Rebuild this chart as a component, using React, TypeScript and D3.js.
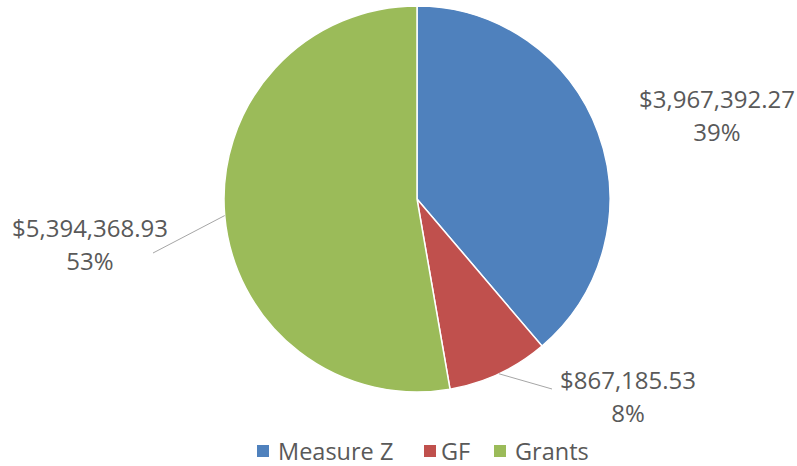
import React, { useEffect, useRef } from 'react';
import * as d3 from 'd3';

const categories = ['Measure Z', 'GF', 'Grants'];
const amounts = [3967392.27, 867185.53, 5394368.93];
const percentLabels = ['39%', '8%', '53%'];
const colors = ['#4F81BD', '#C0504D', '#9BBB59'];

// label placement relative to pie centre (Excel-like manual layout)
const labelOffsets: [number, number][] = [[300, -91], [211, 190], [-327, 38]];
const leaderEnds: ([number, number] | null)[] = [null, [135, 190], [-264, 54]];

const App = () => {
  const svgRef = useRef<SVGSVGElement>(null);

  useEffect(() => {
    const svg = d3.select(svgRef.current);
    svg.selectAll('*').remove();

    const width = 797;
    const height = 466;
    const cx = 417;
    const cy = 199;
    const radius = 193;
    const font = '"Open Sans", "Liberation Sans", sans-serif';
    const textColor = '#595959';

    svg.attr('width', width).attr('height', height);

    const pie = d3.pie<number>().sort(null).value(d => d);
    const arcs = pie(amounts);
    const arc = d3.arc<d3.PieArcDatum<number>>().innerRadius(0).outerRadius(radius);

    const g = svg.append('g').attr('transform', `translate(${cx},${cy})`);

    g.selectAll('path.slice')
      .data(arcs)
      .enter().append('path')
      .attr('class', 'slice')
      .attr('d', arc)
      .attr('fill', (d, i) => colors[i])
      .attr('stroke', '#fff')
      .attr('stroke-width', 1.5);

    const fmt = d3.format('$,.2f');

    // leader lines
    arcs.forEach((a, i) => {
      const end = leaderEnds[i];
      if (!end) return;
      const mid = (a.startAngle + a.endAngle) / 2;
      const sx = radius * Math.sin(mid);
      const sy = -radius * Math.cos(mid);
      g.append('line')
        .attr('x1', sx).attr('y1', sy)
        .attr('x2', end[0]).attr('y2', end[1])
        .attr('stroke', '#A6A6A6')
        .attr('stroke-width', 1);
    });

    // data labels
    arcs.forEach((a, i) => {
      const [lx, ly] = labelOffsets[i];
      const t = g.append('text')
        .attr('text-anchor', 'middle')
        .style('font-family', font)
        .style('font-size', '24px')
        .attr('fill', textColor);
      t.append('tspan').attr('x', lx).attr('y', ly).text(fmt(amounts[i]));
      t.append('tspan').attr('x', lx).attr('y', ly + 33).text(percentLabels[i]);
    });

    // legend
    const legendItems = [
      { x: 257, tx: 278 },
      { x: 424, tx: 441 },
      { x: 494, tx: 515 },
    ];
    const legend = svg.append('g');
    categories.forEach((c, i) => {
      legend.append('rect')
        .attr('x', legendItems[i].x)
        .attr('y', 445)
        .attr('width', 12)
        .attr('height', 12)
        .attr('fill', colors[i]);
      legend.append('text')
        .attr('x', legendItems[i].tx)
        .attr('y', 460)
        .style('font-family', font)
        .style('font-size', '23.5px')
        .attr('fill', textColor)
        .text(c);
    });
  }, []);

  return (
    <div style={{ position: 'absolute', left: 0, top: 0, width: 797, height: 466, background: 'white' }}>
      <svg ref={svgRef} style={{ display: 'block' }} />
    </div>
  );
};

export default App;
